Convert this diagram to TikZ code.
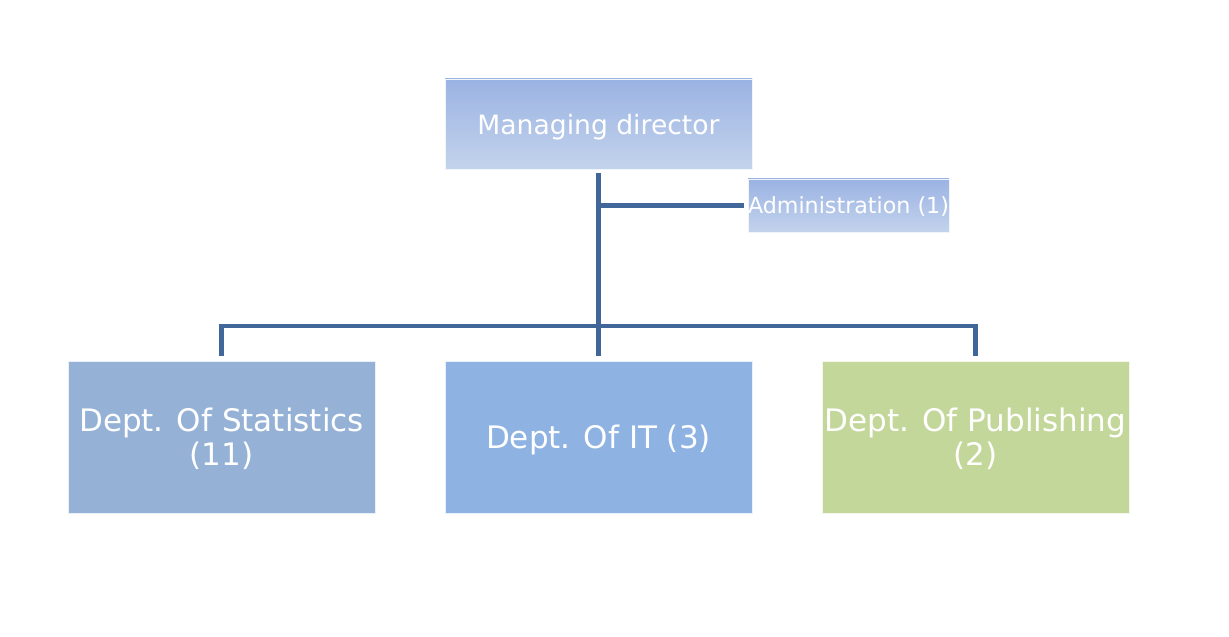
\documentclass[tikz,border=0pt]{standalone}
\usepackage{fontspec}
\setmainfont{DejaVu Sans}
\usepackage{tikz}
\usetikzlibrary{positioning}
\definecolor{trunk}{HTML}{41679A}
\definecolor{statsblue}{HTML}{95B2D6}
\definecolor{itblue}{HTML}{8EB2E1}
\definecolor{pubgreen}{HTML}{C4D79B}
\definecolor{topblue}{HTML}{9BB3E3}
\definecolor{lowblue}{HTML}{C3D3EC}

\begin{document}
\begin{tikzpicture}[x=0.5pt, y=-0.5pt,
	every node/.style={inner sep=0pt, text=white, align=center, text depth=0pt},
	head/.style={top color=topblue, bottom color=lowblue, draw=white!85!topblue, line width=0.4pt},
	dept/.style={minimum width=153.5pt, minimum height=76pt, draw=white!80!#1, fill=#1, line width=0.4pt, text depth=-2pt, font=\fontsize{15.5}{17}\selectfont},
	link/.style={trunk, line width=2.1pt}]
		\useasboundingbox (0,0) rectangle (1229,636);

		\node[head, minimum width=153.5pt, minimum height=45pt, font=\fontsize{13.3}{15}\selectfont] (md) at (598.5,124) {Managing director};
		\node[head, minimum width=100.5pt, minimum height=26.5pt, font=\fontsize{11.1}{12}\selectfont] (admin) at (848.5,205.5) {Administration (1)};

		\node[dept=statsblue] (stats) at (221.5,437) {Dept. Of Statistics\\(11)};
		\node[dept=itblue] (it) at (598.5,437) {Dept. Of IT (3)};
		\node[dept=pubgreen] (pub) at (975.5,437) {Dept. Of Publishing\\(2)};

		\coordinate (bus) at (598.5,326);

		\draw[link, shorten <=2pt, shorten >=2.5pt] (md.south) -- (it.north);
		\draw[link, shorten >=2pt] (md.south |- admin.west) -- (admin.west);
		\draw[link, shorten <=2.5pt, shorten >=2.5pt] (stats.north) |- (bus) -| (pub.north);

	\end{tikzpicture}
\end{document}
